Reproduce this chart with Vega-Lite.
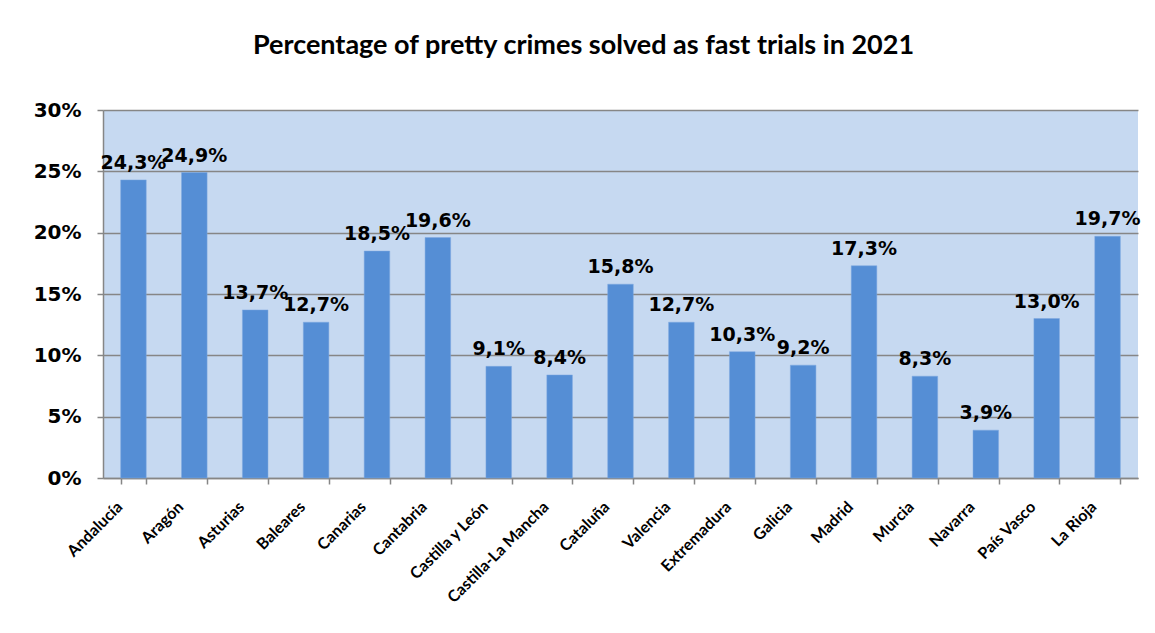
{
  "$schema": "https://vega.github.io/schema/vega-lite/v6.json",
  "width": 1035,
  "height": 368,
  "autosize": {"type": "none"},
  "padding": {"left": 103, "top": 110, "right": 17, "bottom": 155},
  "background": "white",
  "config": {
    "locale": {"number": {"decimal": ",", "thousands": ".", "grouping": [3], "currency": ["", " €"]}},
    "view": {"fill": "#C6D9F1", "stroke": null}
  },
  "title": {
    "text": "Percentage of pretty crimes solved as fast trials in 2021",
    "font": "Lato",
    "fontSize": 27,
    "fontWeight": "bold",
    "color": "#000000",
    "anchor": "middle",
    "dx": -37,
    "offset": 40
  },
  "data": {
    "values": [
      {"region": "Andalucía", "value": 0.243},
      {"region": "Aragón", "value": 0.249},
      {"region": "Asturias", "value": 0.137},
      {"region": "Baleares", "value": 0.127},
      {"region": "Canarias", "value": 0.185},
      {"region": "Cantabria", "value": 0.196},
      {"region": "Castilla y León", "value": 0.091},
      {"region": "Castilla-La Mancha", "value": 0.084},
      {"region": "Cataluña", "value": 0.158},
      {"region": "Valencia", "value": 0.127},
      {"region": "Extremadura", "value": 0.103},
      {"region": "Galicia", "value": 0.092},
      {"region": "Madrid", "value": 0.173},
      {"region": "Murcia", "value": 0.083},
      {"region": "Navarra", "value": 0.039},
      {"region": "País Vasco", "value": 0.130},
      {"region": "La Rioja", "value": 0.197}
    ]
  },
  "encoding": {
    "x": {
      "field": "region",
      "type": "nominal",
      "sort": null,
      "scale": {"paddingInner": 0.58, "paddingOuter": 0.29},
      "axis": {
        "title": null,
        "labelAngle": -45,
        "labelAlign": "right",
        "labelBaseline": "middle",
        "labelFont": "Lato",
        "labelFontWeight": "bold",
        "labelFontSize": 16,
        "labelColor": "#000000",
        "labelPadding": 20,
        "labelOffset": -14,
        "tickBand": "extent",
        "tickSize": 6,
        "tickColor": "#868686",
        "tickWidth": 1.5,
        "domainColor": "#868686",
        "domainWidth": 1.5,
        "grid": false
      }
    },
    "y": {
      "field": "value",
      "type": "quantitative",
      "scale": {"domain": [0, 0.3]},
      "axis": {
        "title": null,
        "values": [0, 0.05, 0.1, 0.15, 0.2, 0.25, 0.3],
        "format": ".0%",
        "labelFont": "DejaVu Sans",
        "labelFontWeight": "bold",
        "labelFontSize": 20,
        "labelColor": "#000000",
        "labelPadding": 16,
        "tickSize": 6,
        "tickColor": "#868686",
        "tickWidth": 1.5,
        "domainColor": "#868686",
        "domainWidth": 1.5,
        "grid": true,
        "gridColor": "#868686",
        "gridWidth": 1.5
      }
    }
  },
  "layer": [
    {
      "mark": {"type": "bar", "color": "#558ED5", "stroke": "#7FA9E0", "strokeWidth": 0.5}
    },
    {
      "mark": {
        "type": "text",
        "font": "DejaVu Sans",
        "fontWeight": "bold",
        "fontSize": 19,
        "color": "#000000",
        "baseline": "alphabetic",
        "dy": -11
      },
      "encoding": {
        "text": {"field": "value", "type": "quantitative", "format": ".1%"}
      }
    }
  ]
}
